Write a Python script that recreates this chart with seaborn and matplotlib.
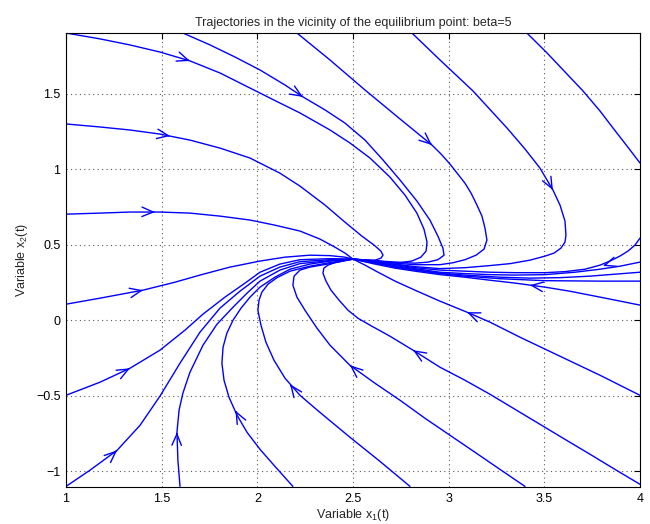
import numpy as np
import pandas as pd
import matplotlib
matplotlib.use("Agg")
import matplotlib.pyplot as plt
import seaborn as sns

# trajectories (x1, x2); all end at the equilibrium (2.5, 0.405)
left_190_x = [1.0, 1.178, 1.334, 1.491, 1.648, 1.805, 1.962, 2.118, 2.223, 2.380, 2.484, 2.589,
              2.693, 2.772, 2.834, 2.871, 2.887, 2.882, 2.855, 2.808, 2.746, 2.667, 2.589, 2.5]
left_190_y = [1.904, 1.865, 1.825, 1.778, 1.719, 1.639, 1.539, 1.440, 1.374, 1.261, 1.175, 1.075,
              0.949, 0.829, 0.710, 0.604, 0.518, 0.458, 0.418, 0.392, 0.382, 0.385, 0.395, 0.405]

left_130_x = [1.0, 1.178, 1.334, 1.491, 1.648, 1.805, 1.962, 2.118, 2.223, 2.354, 2.458, 2.547,
              2.610, 2.646, 2.657, 2.646, 2.615, 2.563, 2.5]
left_130_y = [1.301, 1.281, 1.261, 1.234, 1.194, 1.141, 1.075, 0.975, 0.889, 0.763, 0.650, 0.557,
              0.498, 0.458, 0.431, 0.411, 0.398, 0.395, 0.405]

left_070_x = [1.0, 1.178, 1.334, 1.491, 1.648, 1.805, 1.962, 2.092, 2.223, 2.327, 2.406, 2.458, 2.5]
left_070_y = [0.703, 0.710, 0.717, 0.717, 0.710, 0.690, 0.664, 0.630, 0.591, 0.538, 0.484, 0.445, 0.405]

left_010_x = [1.0, 1.178, 1.402, 1.570, 1.700, 1.857, 2.014, 2.145, 2.275, 2.380, 2.458, 2.5]
left_010_y = [0.106, 0.146, 0.199, 0.252, 0.299, 0.352, 0.392, 0.418, 0.431, 0.428, 0.418, 0.405]

left_m050_x = [1.0, 1.178, 1.334, 1.491, 1.622, 1.716, 1.831, 1.936, 2.014, 2.118, 2.223, 2.380, 2.5]
left_m050_y = [-0.498, -0.411, -0.319, -0.199, -0.066, 0.040, 0.153, 0.246, 0.318, 0.372, 0.401, 0.408, 0.405]

left_m110_x = [1.0, 1.125, 1.267, 1.387, 1.491, 1.596, 1.700, 1.805, 1.909, 2.014, 2.118, 2.223, 2.380, 2.5]
left_m110_y = [-1.102, -0.995, -0.863, -0.697, -0.504, -0.285, -0.080, 0.080, 0.192, 0.292, 0.352,
               0.388, 0.401, 0.405]

bottom_160_x = [1.596, 1.585, 1.580, 1.591, 1.611, 1.648, 1.716, 1.789, 1.873, 1.946, 2.014, 2.118,
                2.223, 2.380, 2.5]
bottom_160_y = [-1.102, -0.929, -0.743, -0.597, -0.484, -0.345, -0.166, -0.027, 0.086, 0.179, 0.259,
                0.332, 0.375, 0.395, 0.405]

bottom_220_x = [2.186, 2.092, 2.014, 1.946, 1.894, 1.852, 1.826, 1.815, 1.821, 1.841, 1.873, 1.915,
                1.962, 2.014, 2.092, 2.171, 2.275, 2.380, 2.5]
bottom_220_y = [-1.102, -0.969, -0.856, -0.743, -0.630, -0.511, -0.398, -0.285, -0.179, -0.086, 0.0,
                0.080, 0.153, 0.219, 0.285, 0.338, 0.372, 0.392, 0.405]

bottom_280_x = [2.798, 2.641, 2.484, 2.327, 2.223, 2.145, 2.087, 2.045, 2.019, 2.003, 2.009, 2.024,
                2.056, 2.103, 2.171, 2.275, 2.380, 2.5]
bottom_280_y = [-1.102, -0.936, -0.776, -0.611, -0.498, -0.385, -0.265, -0.146, -0.033, 0.066, 0.133,
                0.186, 0.239, 0.282, 0.325, 0.358, 0.382, 0.405]

bottom_340_x = [3.399, 3.268, 3.138, 3.007, 2.876, 2.746, 2.615, 2.484, 2.380, 2.312, 2.249, 2.207,
                2.186, 2.192, 2.223, 2.275, 2.380, 2.5]
bottom_340_y = [-1.102, -0.989, -0.876, -0.763, -0.650, -0.531, -0.418, -0.299, -0.166, -0.053, 0.066,
                0.153, 0.232, 0.292, 0.332, 0.352, 0.375, 0.405]

right_m110_x = [4.0, 3.869, 3.739, 3.608, 3.477, 3.347, 3.216, 3.085, 2.955, 2.814, 2.693, 2.589,
                2.526, 2.474, 2.427, 2.385, 2.359, 2.343, 2.348, 2.369, 2.406, 2.458, 2.5]
right_m110_y = [-1.088, -0.989, -0.889, -0.790, -0.690, -0.591, -0.491, -0.398, -0.312, -0.199, -0.106,
                -0.033, 0.013, 0.066, 0.133, 0.199, 0.259, 0.312, 0.345, 0.365, 0.382, 0.395, 0.405]

right_m050_x = [4.0, 3.791, 3.582, 3.373, 3.216, 3.096, 2.955, 2.824, 2.720, 2.631, 2.563, 2.5]
right_m050_y = [-0.498, -0.365, -0.239, -0.113, -0.013, 0.053, 0.126, 0.199, 0.259, 0.318, 0.365, 0.405]

right_010_x = [4.0, 3.791, 3.634, 3.504, 3.347, 3.216, 3.085, 2.955, 2.824, 2.720, 2.615, 2.5]
right_010_y = [0.100, 0.153, 0.192, 0.219, 0.246, 0.265, 0.285, 0.302, 0.325, 0.345, 0.372, 0.405]

right_026_x = [4.0, 3.791, 3.504, 3.268, 3.085, 2.955, 2.824, 2.720, 2.615, 2.5]
right_026_y = [0.259, 0.259, 0.262, 0.275, 0.292, 0.309, 0.332, 0.352, 0.378, 0.405]

right_032_x = [4.0, 3.869, 3.739, 3.582, 3.425, 3.268, 3.085, 2.955, 2.824, 2.720, 2.615, 2.5]
right_032_y = [0.318, 0.305, 0.292, 0.282, 0.279, 0.285, 0.299, 0.312, 0.335, 0.355, 0.382, 0.405]

right_039_x = [4.0, 3.895, 3.791, 3.660, 3.504, 3.347, 3.216, 3.085, 2.955, 2.824, 2.720, 2.615, 2.5]
right_039_y = [0.385, 0.358, 0.338, 0.318, 0.302, 0.299, 0.302, 0.309, 0.318, 0.342, 0.362, 0.385, 0.405]

top_160_x = [1.611, 1.753, 1.883, 2.014, 2.145, 2.239, 2.354, 2.458, 2.563, 2.657, 2.746, 2.834,
             2.902, 2.944, 2.970, 2.976, 2.944, 2.892, 2.824, 2.720, 2.615, 2.5]
top_160_y = [1.904, 1.825, 1.745, 1.659, 1.559, 1.480, 1.394, 1.307, 1.194, 1.062, 0.929, 0.790,
             0.664, 0.557, 0.478, 0.431, 0.401, 0.385, 0.378, 0.385, 0.395, 0.405]

top_220_x = [2.207, 2.380, 2.563, 2.746, 2.913, 2.960, 3.007, 3.085, 3.117, 3.148, 3.174, 3.190,
             3.200, 3.185, 3.143, 3.085, 3.023, 2.955, 2.824, 2.720, 2.615, 2.5]
top_220_y = [1.904, 1.725, 1.526, 1.334, 1.161, 1.102, 1.035, 0.909, 0.843, 0.763, 0.690, 0.610,
             0.531, 0.471, 0.431, 0.401, 0.381, 0.368, 0.368, 0.378, 0.395, 0.405]

top_280_x = [2.808, 2.955, 3.127, 3.305, 3.399, 3.477, 3.545, 3.582, 3.608, 3.613, 3.608, 3.587,
             3.551, 3.504, 3.425, 3.321, 3.216, 3.085, 2.955, 2.824, 2.720, 2.615, 2.5]
top_280_y = [1.904, 1.725, 1.520, 1.274, 1.135, 1.009, 0.863, 0.763, 0.657, 0.564, 0.518, 0.478,
             0.445, 0.425, 0.398, 0.375, 0.362, 0.348, 0.342, 0.355, 0.372, 0.392, 0.405]

# this one leaves the box on the right and comes back in lower down
top_340_out_x = [3.409, 3.514, 3.608, 3.702, 3.791, 3.859, 3.932, 4.0]
top_340_out_y = [1.904, 1.772, 1.646, 1.520, 1.387, 1.274, 1.155, 1.042]
top_340_back_x = [4.0, 3.974, 3.937, 3.895, 3.843, 3.791, 3.713, 3.608, 3.504, 3.347, 3.216, 3.085,
                  2.955, 2.824, 2.720, 2.615, 2.5]
top_340_back_y = [0.544, 0.498, 0.458, 0.425, 0.392, 0.365, 0.338, 0.322, 0.315, 0.315, 0.318, 0.325,
                  0.332, 0.348, 0.368, 0.388, 0.405]

# arrow heads: trajectory name and where the tip sits
arrow_traj = ["left_190", "left_130", "left_070", "left_010", "left_m050", "left_m110",
              "bottom_160", "bottom_220", "bottom_280", "bottom_340", "right_m110",
              "right_m050", "right_010", "top_160", "top_220", "top_280", "top_340_back"]
arrow_x = [1.648, 1.544, 1.465, 1.402, 1.334, 1.267, 1.580, 1.886, 2.171, 2.484, 2.814,
           3.096, 3.425, 2.239, 2.913, 3.545, 3.807]
arrow_y = [1.719, 1.221, 0.717, 0.199, -0.319, -0.863, -0.743, -0.600, -0.425, -0.299, -0.199,
           0.053, 0.232, 1.480, 1.161, 0.863, 0.360]

trajectories = {
    "left_190": (left_190_x, left_190_y),
    "left_130": (left_130_x, left_130_y),
    "left_070": (left_070_x, left_070_y),
    "left_010": (left_010_x, left_010_y),
    "left_m050": (left_m050_x, left_m050_y),
    "left_m110": (left_m110_x, left_m110_y),
    "bottom_160": (bottom_160_x, bottom_160_y),
    "bottom_220": (bottom_220_x, bottom_220_y),
    "bottom_280": (bottom_280_x, bottom_280_y),
    "bottom_340": (bottom_340_x, bottom_340_y),
    "right_m110": (right_m110_x, right_m110_y),
    "right_m050": (right_m050_x, right_m050_y),
    "right_010": (right_010_x, right_010_y),
    "right_026": (right_026_x, right_026_y),
    "right_032": (right_032_x, right_032_y),
    "right_039": (right_039_x, right_039_y),
    "top_160": (top_160_x, top_160_y),
    "top_220": (top_220_x, top_220_y),
    "top_280": (top_280_x, top_280_y),
    "top_340_out": (top_340_out_x, top_340_out_y),
    "top_340_back": (top_340_back_x, top_340_back_y),
}

rows = []
for name, (xs, ys) in trajectories.items():
    for i, (xv, yv) in enumerate(zip(xs, ys)):
        rows.append((name, i, xv, yv))
df = pd.DataFrame(rows, columns=["traj", "step", "x1", "x2"])

sns.set_style("white")
plt.rcParams["font.family"] = ["Liberation Sans", "DejaVu Sans"]
plt.rcParams["mathtext.fontset"] = "custom"
plt.rcParams["mathtext.rm"] = "Liberation Sans"
plt.rcParams["mathtext.it"] = "Liberation Sans"

fig = plt.figure(figsize=(6.5, 5.24), dpi=100)
ax = fig.add_axes([0.1015, 0.0706, 0.8831, 0.8664])

sns.lineplot(data=df, x="x1", y="x2", units="traj", estimator=None, sort=False,
             color="blue", linewidth=1.0, ax=ax, legend=False)

# open arrow heads, pointing along the local direction of the curve
for name, tx, ty in zip(arrow_traj, arrow_x, arrow_y):
    xs = np.array(trajectories[name][0])
    ys = np.array(trajectories[name][1])
    k = int(np.argmin((xs - tx) ** 2 + (ys - ty) ** 2))
    k0, k1 = max(k - 1, 0), min(k + 1, len(xs) - 1)
    dx, dy = xs[k1] - xs[k0], ys[k1] - ys[k0]
    n = np.hypot(dx, dy)
    tail = (tx - 0.01 * dx / n, ty - 0.01 * dy / n)
    ax.annotate("", xy=(tx, ty), xytext=tail,
                arrowprops=dict(arrowstyle="->,head_length=0.9,head_width=0.38",
                                color="blue", lw=1.0, shrinkA=0, shrinkB=0,
                                mutation_scale=9))

ax.set_xlim(1, 4)
ax.set_ylim(-1.106, 1.904)
ax.set_xticks([1, 1.5, 2, 2.5, 3, 3.5, 4])
ax.set_xticklabels(["1", "1.5", "2", "2.5", "3", "3.5", "4"])
ax.set_yticks([-1, -0.5, 0, 0.5, 1, 1.5])
ax.set_yticklabels(["\u22121", "\u22120.5", "0", "0.5", "1", "1.5"])
ax.tick_params(direction="in", top=True, right=True, length=4, width=0.8,
               labelsize=9, colors="black", pad=4)
ax.grid(True, linestyle=(0, (1, 3)), color="0.35", linewidth=0.8)
for s in ax.spines.values():
    s.set_color("black")
    s.set_linewidth(0.8)

ax.set_title("Trajectories in the vicinity of the equilibrium point: beta=5", fontsize=9, pad=5)
ax.set_xlabel("Variable x$_{1}$(t)", fontsize=9, labelpad=2)
ax.set_ylabel("Variable x$_{2}$(t)", fontsize=9, labelpad=4)

fig.savefig("out.png", dpi=100)
